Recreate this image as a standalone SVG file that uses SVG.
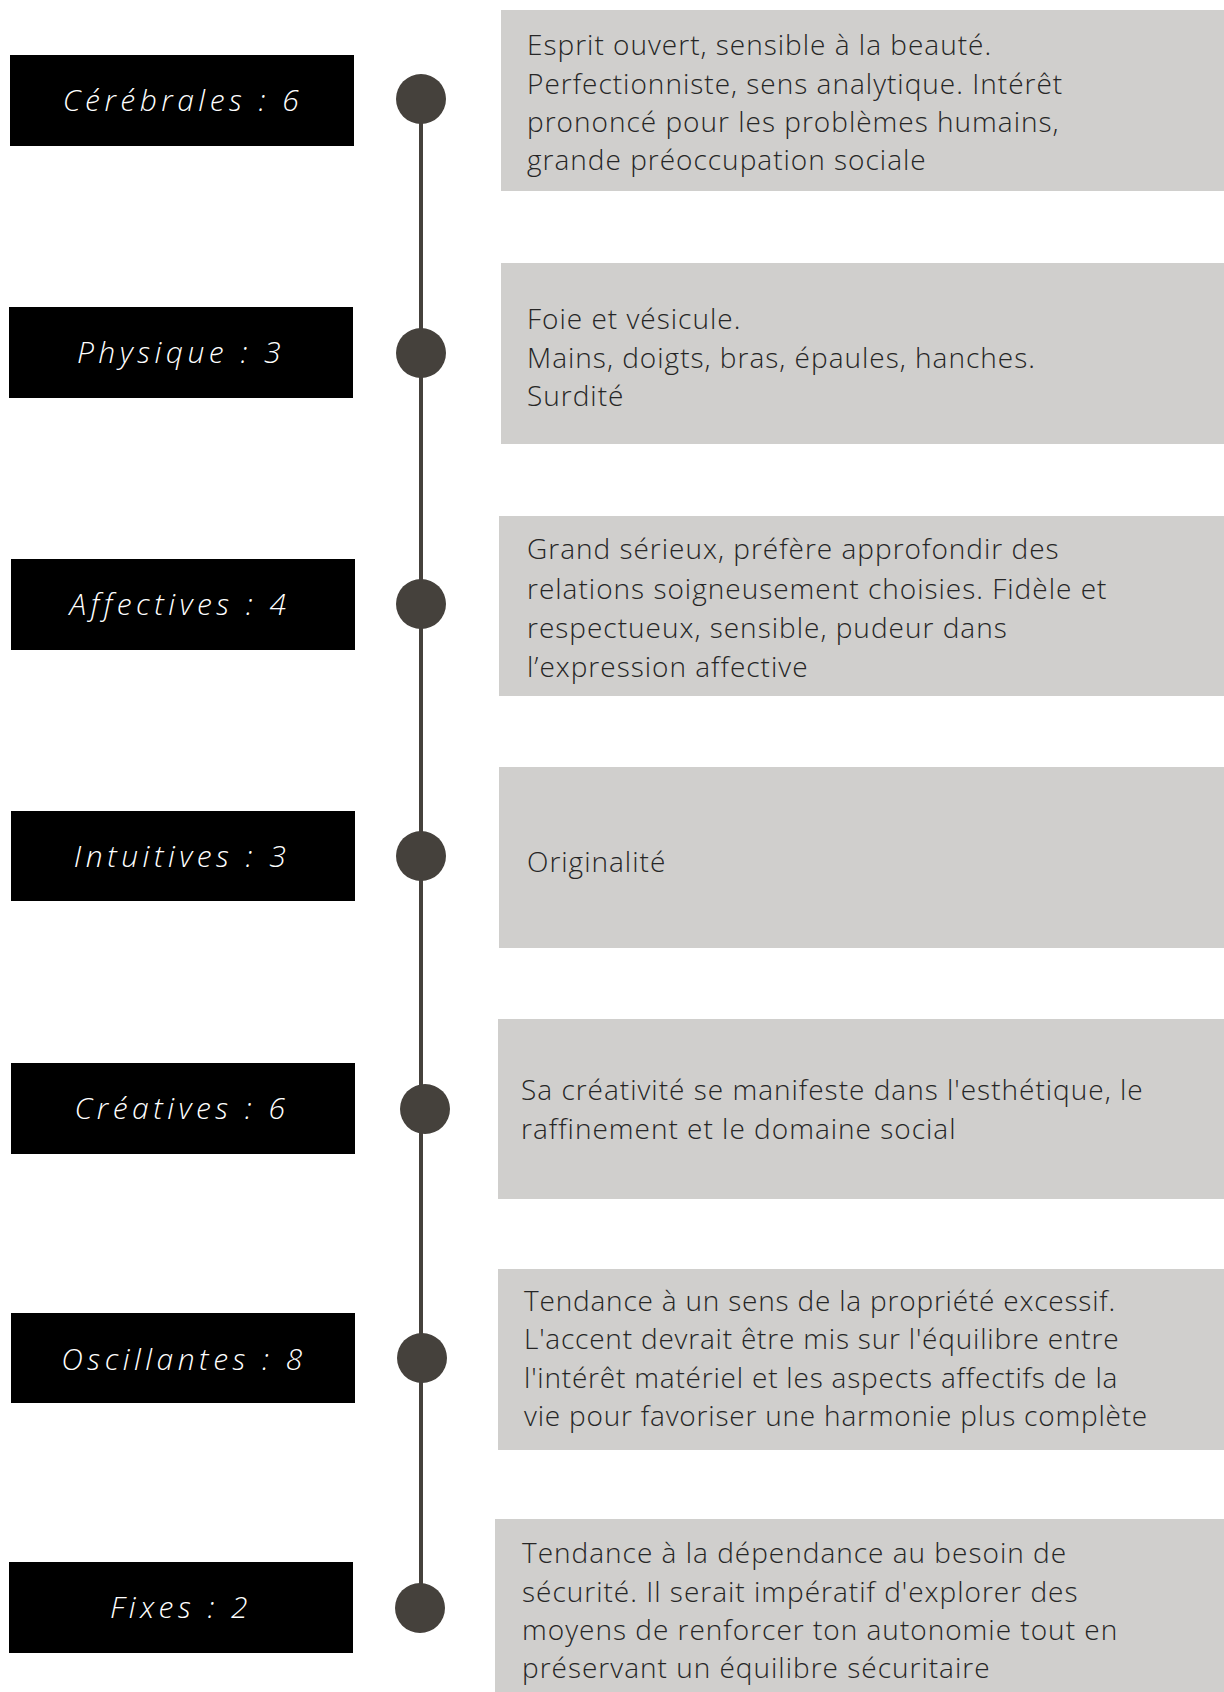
<svg xmlns="http://www.w3.org/2000/svg" width="1224" height="1692" viewBox="0 0 1224 1692">
<style>
.lbl{fill:#000}
.lt{font-family:"Open Sans","Liberation Sans",sans-serif;font-style:italic;font-weight:300;font-size:30px;letter-spacing:4.5px;fill:#fff;text-anchor:middle}
.card{fill:#d0cfcd}
.bt{font-family:"Open Sans","Liberation Sans",sans-serif;font-weight:300;font-size:28px;letter-spacing:1px;fill:#262626}
.bt.tight{letter-spacing:0.8px}
.dot{fill:#45413c}
</style>
<rect width="1224" height="1692" fill="#fff"/>
<g id="connectors">
<line x1="421" y1="99" x2="421" y2="1608" stroke="#45413c" stroke-width="4"/>
</g>
<g id="n1">
<rect class="lbl" x="10" y="55" width="344" height="91"/>
<text class="lt" x="183" y="111">Cérébrales : 6</text>
<circle class="dot" cx="421" cy="99" r="25"/>
<rect class="card" x="501" y="10" width="723" height="181"/>
<text class="bt"><tspan x="527" y="54.5">Esprit ouvert, sensible à la beauté.</tspan><tspan x="527" y="93.5">Perfectionniste, sens analytique. Intérêt</tspan><tspan x="527" y="132">prononcé pour les problèmes humains,</tspan><tspan x="527" y="170">grande préoccupation sociale</tspan></text>
</g>
<g id="n2">
<rect class="lbl" x="9" y="307" width="344" height="91"/>
<text class="lt" x="181" y="363">Physique : 3</text>
<circle class="dot" cx="421" cy="353" r="25"/>
<rect class="card" x="501" y="263" width="723" height="181"/>
<text class="bt"><tspan x="527" y="328.5">Foie et vésicule.</tspan><tspan x="527" y="367.5">Mains, doigts, bras, épaules, hanches.</tspan><tspan x="527" y="406">Surdité</tspan></text>
</g>
<g id="n3">
<rect class="lbl" x="11" y="559" width="344" height="91"/>
<text class="lt" x="180" y="615">Affectives : 4</text>
<circle class="dot" cx="421" cy="604" r="25"/>
<rect class="card" x="499" y="516" width="725" height="180"/>
<text class="bt"><tspan x="527" y="559">Grand sérieux, préfère approfondir des</tspan><tspan x="527" y="599">relations soigneusement choisies. Fidèle et</tspan><tspan x="527" y="638">respectueux, sensible, pudeur dans</tspan><tspan x="527" y="677">l’expression affective</tspan></text>
</g>
<g id="n4">
<rect class="lbl" x="11" y="811" width="344" height="90"/>
<text class="lt" x="182" y="867">Intuitives : 3</text>
<circle class="dot" cx="421" cy="856" r="25"/>
<rect class="card" x="499" y="767" width="725" height="181"/>
<text class="bt" x="527" y="872">Originalité</text>
</g>
<g id="n5">
<rect class="lbl" x="11" y="1063" width="344" height="91"/>
<text class="lt" x="182" y="1119">Créatives : 6</text>
<circle class="dot" cx="425" cy="1109" r="25"/>
<rect class="card" x="498" y="1019" width="726" height="180"/>
<text class="bt"><tspan x="521" y="1100">Sa créativité se manifeste dans l'esthétique, le</tspan><tspan x="521" y="1139">raffinement et le domaine social</tspan></text>
</g>
<g id="n6">
<rect class="lbl" x="11" y="1313" width="344" height="90"/>
<text class="lt" x="184" y="1370">Oscillantes : 8</text>
<circle class="dot" cx="422" cy="1358" r="25"/>
<rect class="card" x="498" y="1269" width="726" height="181"/>
<text class="bt tight"><tspan x="524" y="1311">Tendance à un sens de la propriété excessif.</tspan><tspan x="524" y="1349">L'accent devrait être mis sur l'équilibre entre</tspan><tspan x="524" y="1388">l'intérêt matériel et les aspects affectifs de la</tspan><tspan x="524" y="1426">vie pour favoriser une harmonie plus complète</tspan></text>
</g>
<g id="n7">
<rect class="lbl" x="9" y="1562" width="344" height="91"/>
<text class="lt" x="181" y="1618">Fixes : 2</text>
<circle class="dot" cx="420" cy="1608" r="25"/>
<rect class="card" x="495" y="1519" width="729" height="173"/>
<text class="bt"><tspan x="522" y="1563">Tendance à la dépendance au besoin de</tspan><tspan x="522" y="1602">sécurité. Il serait impératif d'explorer des</tspan><tspan x="522" y="1640">moyens de renforcer ton autonomie tout en</tspan><tspan x="522" y="1678">préservant un équilibre sécuritaire</tspan></text>
</g>
</svg>
